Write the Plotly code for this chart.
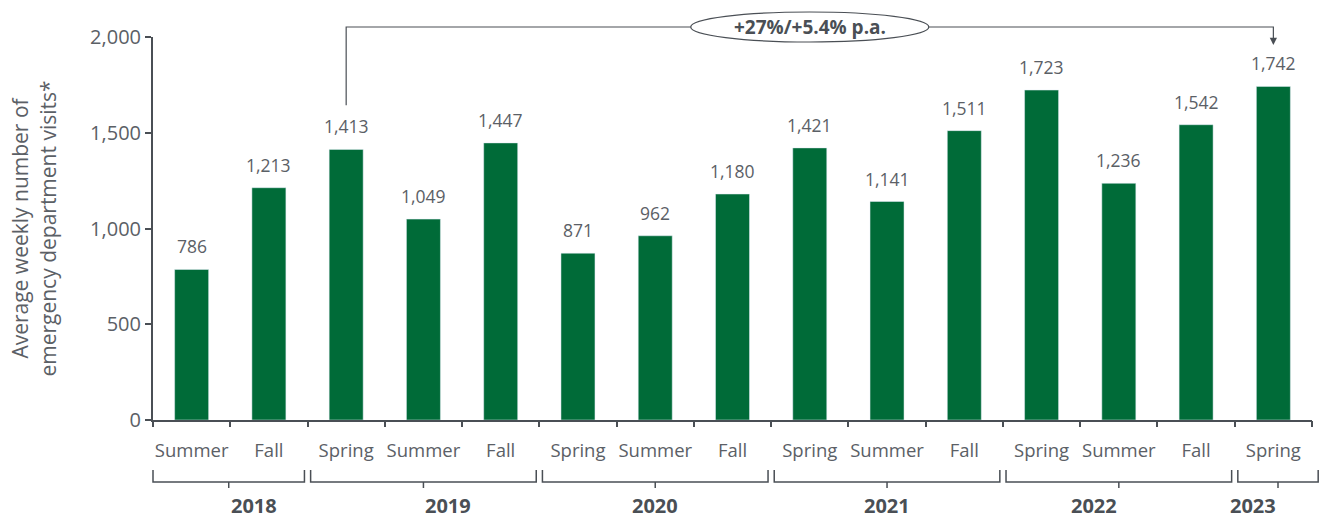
import plotly.graph_objects as go

seasons = ["Summer", "Fall", "Spring", "Summer", "Fall", "Spring", "Summer", "Fall",
           "Spring", "Summer", "Fall", "Spring", "Summer", "Fall", "Spring"]
years = ["2018", "2018", "2019", "2019", "2019", "2020", "2020", "2020",
         "2021", "2021", "2021", "2022", "2022", "2022", "2023"]
visits = [786, 1213, 1413, 1049, 1447, 871, 962, 1180, 1421, 1141, 1511, 1723, 1236, 1542, 1742]
y_ticks = [0, 500, 1000, 1500, 2000]
growth_text = "+27%/+5.4% p.a."
y_title = "Average weekly number of<br>emergency department visits*"

BAR = "#006b38"
TXT = "#5b6066"
DARK = "#4a4f55"
FONT = "'Open Sans', sans-serif"

W, H = 1325, 520
L, R, T, B = 153, 13, 37, 100
plot_h = H - T - B

n = len(visits)
idx = list(range(n))

fig = go.Figure()
fig.add_trace(go.Bar(x=idx, y=visits, marker_color=BAR, width=0.44, hoverinfo="skip"))
fig.add_trace(go.Scatter(x=[-0.5, n - 0.5], y=[0, 0], xaxis="x2", mode="lines",
                         line=dict(width=0), hoverinfo="skip", showlegend=False))

annotations = []
for i, v in zip(idx, visits):
    annotations.append(dict(x=i, y=v, xref="x", yref="y", text=f"{v:,}", showarrow=False,
                            yanchor="bottom", yshift=9, font=dict(size=17.5, color=TXT)))

def px(i):
    return (i + 0.5) / n

def py(pix):  # pixels below the plot top -> paper
    return 1 - pix / plot_h

shapes = []
groups = []
for i, yv in enumerate(years):
    if groups and groups[-1][0] == yv:
        groups[-1][2] = i
    else:
        groups.append([yv, i, i])
pad = 0.04 / n
yt = py(plot_h + 50)
yb = py(plot_h + 62)
ytick = py(plot_h + 68)
for gi, (yv, s, e) in enumerate(groups):
    x0 = s / n + (pad if gi > 0 else 0)
    x1 = (e + 1) / n - (pad if gi < len(groups) - 1 else -0.08 / n)
    shapes.append(dict(type="path", xref="paper", yref="paper",
                       path=f"M {x0},{yt} L {x0},{yb} L {x1},{yb} L {x1},{yt}",
                       line=dict(color=DARK, width=1.5)))
    xm = (x0 + x1) / 2
    shapes.append(dict(type="line", xref="paper", yref="paper", x0=xm, x1=xm, y0=yb, y1=ytick,
                       line=dict(color=DARK, width=1.5)))
    annotations.append(dict(x=xm, y=py(plot_h + 85), xref="paper", yref="paper",
                            text=f"<b>{yv}</b>", showarrow=False, yanchor="middle",
                            font=dict(size=20, color=DARK)))

# growth bracket from Spring 2019 to Spring 2023
i0, i1 = 2, 14
ytop = py(-10)
ystart = (visits[i0] + 230) / 2000
shapes.append(dict(type="path", xref="paper", yref="paper",
                   path=f"M {px(i0)},{ystart} L {px(i0)},{ytop} L {px(i1)},{ytop} L {px(i1)},{py(2)}",
                   line=dict(color=DARK, width=1.2)))
annotations.append(dict(x=i1, y=py(8), xref="x", yref="paper", ax=0, ay=-6, text="",
                        showarrow=True, arrowhead=2, arrowsize=1.2, arrowwidth=1.2,
                        arrowcolor=DARK))
xc = px(8)
hw = 119 / ((W - L - R))
shapes.append(dict(type="circle", xref="paper", yref="paper",
                   x0=xc - hw, x1=xc + hw, y0=py(5), y1=py(-25),
                   fillcolor="white", line=dict(color=DARK, width=1.2), layer="above"))
annotations.append(dict(x=xc, y=ytop, xref="paper", yref="paper", text=f"<b>{growth_text}</b>",
                        showarrow=False, xanchor="center", yanchor="middle",
                        font=dict(size=19, color=DARK)))

fig.update_layout(
    width=W, height=H,
    margin=dict(l=L, r=R, t=T, b=B, autoexpand=False),
    plot_bgcolor="white", paper_bgcolor="white",
    font=dict(family=FONT, color=TXT),
    showlegend=False,
    hovermode=False,
    xaxis=dict(range=[-0.5, n - 0.5], tickvals=idx, ticktext=seasons, ticks="",
               showline=True, linecolor=DARK, linewidth=2, showgrid=False, zeroline=False,
               tickfont=dict(size=18.5, color=TXT), ticklabelstandoff=13, automargin=False),
    xaxis2=dict(range=[-0.5, n - 0.5], overlaying="x", side="bottom", anchor="y",
                tickvals=[i - 0.5 for i in range(n + 1)], showticklabels=False,
                ticks="outside", ticklen=6, tickwidth=2, tickcolor=DARK,
                showline=False, showgrid=False, zeroline=False, automargin=False),
    yaxis=dict(range=[0, 2000], tickvals=y_ticks, tickformat=",", ticks="outside",
               ticklen=6, tickwidth=2, tickcolor=DARK, showline=True, linecolor=DARK,
               linewidth=2, showgrid=False, zeroline=False, automargin=False,
               tickfont=dict(size=20, color=TXT),
               title=dict(text=y_title, font=dict(size=21, color=TXT), standoff=28)),
    shapes=shapes,
    annotations=annotations,
)

fig.write_html("out.html", config={"displayModeBar": False, "staticPlot": True},
               post_script="document.body.style.margin='0px';document.body.style.overflow='hidden';")
